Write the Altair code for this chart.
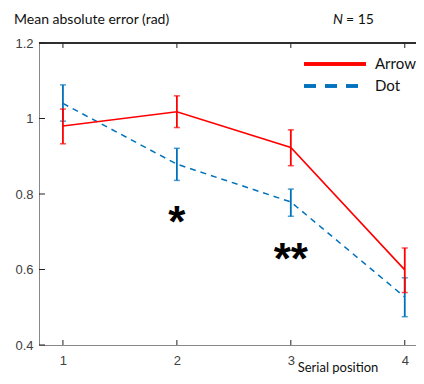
import altair as alt
import pandas as pd

positions = [1, 2, 3, 4]
arrow_mean = [0.980, 1.018, 0.923, 0.599]
arrow_lo = [0.933, 0.976, 0.875, 0.539]
arrow_hi = [1.025, 1.060, 0.970, 0.657]
dot_mean = [1.040, 0.879, 0.779, 0.527]
dot_lo = [0.993, 0.836, 0.741, 0.475]
dot_hi = [1.089, 0.921, 0.813, 0.578]

star_x = [2, 3]
star_y = [0.744, 0.647]
star_text = ["*", "**"]

x_ticks = [1, 2, 3, 4]
y_ticks = [0.4, 0.6, 0.8, 1.0, 1.2]
legend_names = ["Arrow", "Dot"]

RED = "#FF0000"
BLUE = "#0072BD"
W, H = 377, 302      # visible plot width (canvas must stay within the page)
XR = 384             # full axis length (right frame falls just past the edge, as in the crop)
FONT_T = "Lato"
FONT_N = "Liberation Sans"

xs = alt.Scale(domain=[0.79, 4.16], range=[0, XR], nice=False, zero=False)
ys = alt.Scale(domain=[0.4, 1.2], nice=False, zero=False)

arrow = pd.DataFrame({"x": positions, "m": arrow_mean, "lo": arrow_lo, "hi": arrow_hi})
dot = pd.DataFrame({"x": positions, "m": dot_mean, "lo": dot_lo, "hi": dot_hi})

X = alt.X("x:Q", scale=xs, axis=alt.Axis(values=x_ticks, title=None, ticks=False, grid=False,
                                            domainColor="#888888", labelColor="#404040",
                                            labelFont=FONT_N, labelFontSize=13, labelPadding=9,
                                            format="d"))
Yax = alt.Axis(values=y_ticks, title=None, ticks=False, grid=False, domainColor="#888888",
               labelColor="#404040", labelFont=FONT_N, labelFontSize=13, labelPadding=6,
               labelExpr="datum.value == 1 ? '1' : format(datum.value, '.1f')")


def series(df, color, dash):
    base = alt.Chart(df)
    line = base.mark_line(color=color, strokeWidth=1.6 if dash is None else 1.5,
                          **({} if dash is None else {"strokeDash": dash})).encode(
        x=X, y=alt.Y("m:Q", scale=ys, axis=Yax))
    bar = base.mark_rule(color=color, strokeWidth=1.8).encode(
        x=alt.X("x:Q", scale=xs), y=alt.Y("lo:Q", scale=ys), y2="hi:Q")
    cap_lo = base.mark_tick(color=color, orient="horizontal", size=6, thickness=1.5).encode(
        x=alt.X("x:Q", scale=xs), y=alt.Y("lo:Q", scale=ys))
    cap_hi = base.mark_tick(color=color, orient="horizontal", size=6, thickness=1.5).encode(
        x=alt.X("x:Q", scale=xs), y=alt.Y("hi:Q", scale=ys))
    return [line, bar, cap_lo, cap_hi]


layers = []
layers += series(dot, BLUE, [6, 5])
layers += series(arrow, RED, None)

# frame (top/right) and inward ticks
xt = pd.DataFrame({"x": x_ticks})
yt = pd.DataFrame({"y": y_ticks})
layers.append(alt.Chart(xt).mark_rule(color="#222222", strokeWidth=1).encode(
    x=alt.value(0), x2=alt.value(XR), y=alt.value(0)))
layers.append(alt.Chart(xt).mark_rule(color="#222222", strokeWidth=1).encode(
    x=alt.value(XR - 0.5), y=alt.value(0), y2=alt.value(H)))
layers.append(alt.Chart(xt).mark_rule(color="#222222").encode(
    x=alt.X("x:Q", scale=xs), y=alt.value(0), y2=alt.value(5)))
layers.append(alt.Chart(xt).mark_rule(color="#222222").encode(
    x=alt.X("x:Q", scale=xs), y=alt.value(H), y2=alt.value(H - 5)))
layers.append(alt.Chart(yt).mark_rule(color="#222222").encode(
    y=alt.Y("y:Q", scale=ys), x=alt.value(0), x2=alt.value(6)))
layers.append(alt.Chart(yt).mark_rule(color="#222222").encode(
    y=alt.Y("y:Q", scale=ys), x=alt.value(XR), x2=alt.value(XR - 4)))

# significance stars
stars = pd.DataFrame({"x": star_x, "y": star_y, "t": star_text})
layers.append(alt.Chart(stars).mark_text(font=FONT_N, fontWeight="bold", fontSize=44,
                                         color="black", dy=22, baseline="alphabetic").encode(
    x=alt.X("x:Q", scale=xs), y=alt.Y("y:Q", scale=ys), text="t:N"))

# legend
lg = pd.DataFrame({"n": legend_names})
layers.append(alt.Chart(lg).mark_rule(color=RED, strokeWidth=3.5).encode(
    x=alt.value(265), x2=alt.value(327), y=alt.value(21)))
layers.append(alt.Chart(lg).mark_rule(color=BLUE, strokeWidth=3.5, strokeDash=[12, 9]).encode(
    x=alt.value(265), x2=alt.value(327), y=alt.value(43)))
layers.append(alt.Chart(pd.DataFrame({"n": [legend_names[0]]})).mark_text(
    font=FONT_T, fontSize=15, align="left", baseline="middle", color="#111111").encode(
    x=alt.value(336), y=alt.value(21), text="n:N"))
layers.append(alt.Chart(pd.DataFrame({"n": [legend_names[1]]})).mark_text(
    font=FONT_T, fontSize=15, align="left", baseline="middle", color="#111111").encode(
    x=alt.value(336), y=alt.value(43), text="n:N"))

# titles
layers.append(alt.Chart(pd.DataFrame({"t": ["Mean absolute error (rad)"]})).mark_text(
    font=FONT_T, fontSize=14, align="left", baseline="alphabetic", color="#111111").encode(
    x=alt.value(-25), y=alt.value(-19), text="t:N"))
layers.append(alt.Chart(pd.DataFrame({"t": ["N"]})).mark_text(
    font=FONT_T, fontSize=14, fontStyle="italic", align="left", baseline="alphabetic",
    color="#111111").encode(x=alt.value(294), y=alt.value(-19), text="t:N"))
layers.append(alt.Chart(pd.DataFrame({"t": ["= 15"]})).mark_text(
    font=FONT_T, fontSize=14, align="left", baseline="alphabetic", color="#111111").encode(
    x=alt.value(307), y=alt.value(-19), text="t:N"))
layers.append(alt.Chart(pd.DataFrame({"t": ["Serial position"]})).mark_text(
    font=FONT_T, fontSize=13, align="center", baseline="alphabetic", color="#111111").encode(
    x=alt.value(299), y=alt.value(329), text="t:N"))

chart = alt.layer(*layers).properties(
    width=W, height=H,
    autosize=alt.AutoSizeParams(type="none"),
    padding={"left": 31, "top": 35, "right": 0, "bottom": 31},
).configure_view(stroke=None).configure_axis(domainWidth=1)

chart.save("out.html", embed_options={"renderer": "svg", "actions": False})
